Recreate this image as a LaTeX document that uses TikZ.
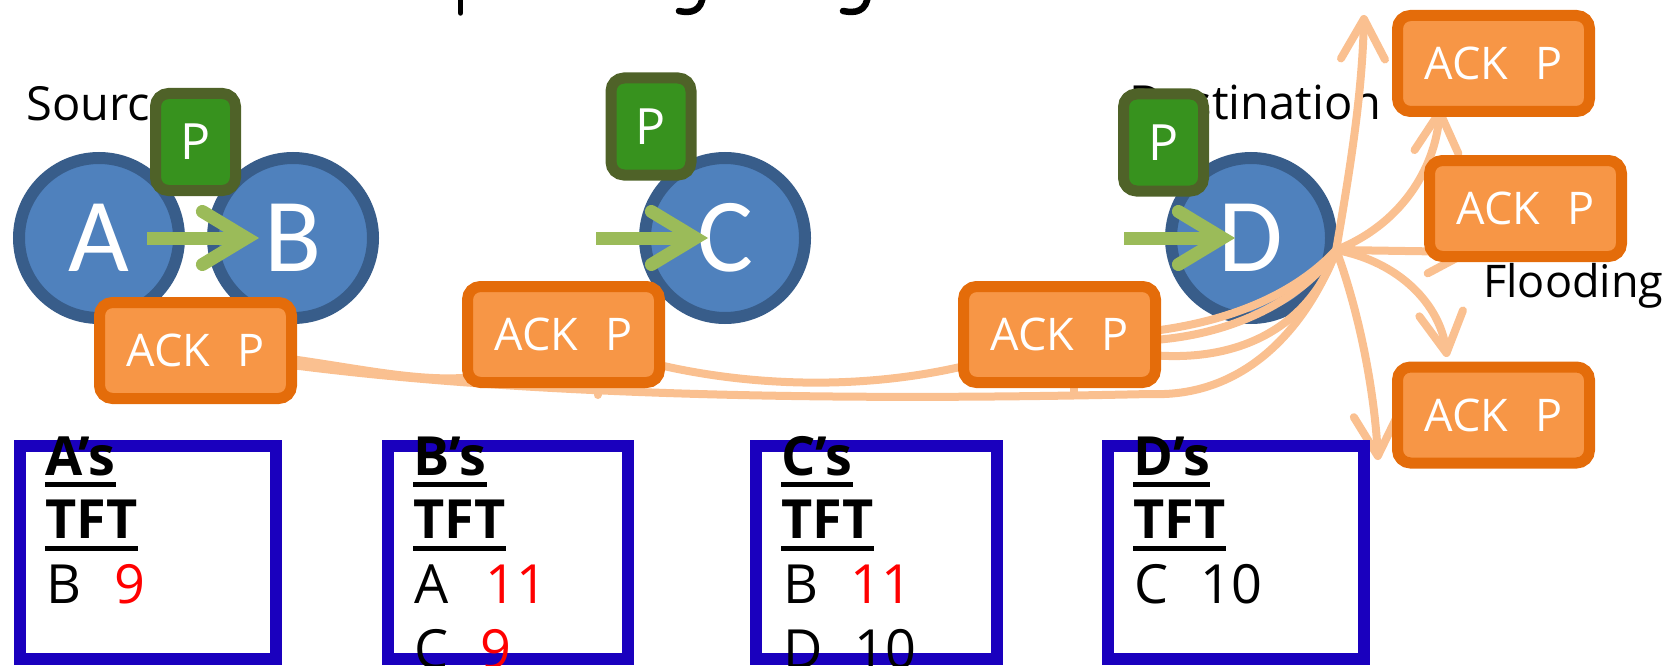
\documentclass[tikz,border=0pt]{standalone}
\usepackage{fontspec}
\setmainfont{Open Sans}
\newfontfamily\lettersfont{Carlito}
\usetikzlibrary{arrows.meta}

\definecolor{nodefill}{HTML}{4F81BD}
\definecolor{nodeline}{HTML}{385D8A}
\definecolor{pfill}{HTML}{37921E}
\definecolor{pline}{HTML}{4F6228}
\definecolor{ackfill}{HTML}{F79646}
\definecolor{ackline}{HTML}{E46C0A}
\definecolor{flowc}{HTML}{FAC090}
\definecolor{moveg}{HTML}{9BBB59}
\definecolor{tftblue}{RGB}{26,0,190}

\begin{document}
\begin{tikzpicture}[x=1pt,y=-1pt,
  peer/.style={circle, draw=nodeline, fill=nodefill, line width=12pt,
    minimum size=160pt, inner sep=0pt, text=white,
    font=\lettersfont\fontsize{105}{105}\selectfont},
  pkt/.style={rectangle, rounded corners=13pt, draw=pline, fill=pfill,
    line width=11pt, minimum width=80pt, minimum height=97pt, inner sep=0pt,
    text=white, font=\fontsize{50}{50}\selectfont},
  ack/.style={rectangle, rounded corners=13pt, draw=ackline, fill=ackfill,
    line width=11pt, minimum width=192pt, minimum height=96pt, inner sep=0pt,
    text=white, font=\fontsize{45}{45}\selectfont},
  move/.style={draw=moveg, line width=13pt,
    -{Straight Barb[length=44pt,width=53pt,line cap=round,line join=miter]}},
  flow/.style={draw=flowc, line width=8pt, line cap=round},
  flood/.style={flow,
    -{Straight Barb[length=40pt,width=44pt,line cap=round,line join=round]}},
  caption/.style={inner sep=0pt, anchor=base west,
    font=\fontsize{47}{47}\selectfont},
  tftbox/.style={rectangle, draw=tftblue, line width=12pt,
    minimum height=213pt, inner sep=0pt},
  tabhead/.style={inner sep=0pt, anchor=base west,
    font=\bfseries\fontsize{54}{54}\selectfont},
  tabtxt/.style={inner sep=0pt, anchor=base west,
    font=\fontsize{54}{54}\selectfont},
  uline/.style={line width=5pt},
]
\useasboundingbox (0,0) rectangle (1675,666);

% descenders of the heading line above
\draw[line width=5.5pt, line cap=round] (460.5,-6) -- (460.5,13);
\draw[line width=6.5pt, line cap=round] (703,-6) .. controls (702,12) and (690,13.5) .. (679,11);
\draw[line width=6.5pt, line cap=round] (868,-6) .. controls (867,12) and (855,13.5) .. (843,11);

% end-point captions
\node[caption] (src) at (26,121) {Source};
\node[caption] (dst) at (1129,120) {Destination};

% peers
\node[peer] (A) at (99,238) {A};
\node[peer] (B) at (293,238) {B};
\node[peer] (C) at (725,238) {C};
\node[peer] (D) at (1251,238) {D};

% data packet hops
\coordinate (inA) at (147,238);
\coordinate (inC) at (596,238);
\coordinate (inD) at (1124,238);
\draw[move] (inA) -- ([xshift=-34pt]B.center);
\draw[move] (inC) -- ([xshift=-17pt]C.center);
\draw[move] (inD) -- ([xshift=-16pt]D.center);

% data packets
\node[pkt] (pA) at (195.5,142) {P};
\node[pkt] (pC) at (651,126.5) {P};
\node[pkt] (pD) at (1163.5,142.5) {P};

% flooding centre at the destination
\coordinate (F) at (D.-8);

% acknowledgement return paths
\node[ack, draw=none, fill=none] (ackA) at (195.5,350.5) {};
\node[ack, draw=none, fill=none] (ackB) at (563.5,334.5) {};
\node[ack, draw=none, fill=none] (ackC) at (1059.5,334.5) {};
\draw[flow] (ackA.center) .. controls (360,355) and (480,420) .. (ackB.center);
\draw[flow] (ackA.center) .. controls (450,395) and (800,402) .. (1150,394)
            .. controls (1250,398) and (1310,320) .. (F);
\draw[flow] (ackB.center) .. controls (700,392) and (900,405) .. (ackC.center);
\draw[flow] (ackC.center) .. controls (1200,340) and (1290,300) .. (F);
\draw[flow] (ackC.center) .. controls (1200,360) and (1300,305) .. (F);
\draw[flow] (ackC.center) .. controls (1220,390) and (1310,330) .. (F);
\draw[flow] ([xshift=34pt]ackB.south) -- ++(0,7);
\draw[flow] ([xshift=14.5pt]ackC.south) -- ++(0,7);

% flooded acknowledgements
\coordinate (fUp) at (1364,15);
\coordinate (fTR) at (1440,108);
\coordinate (fMR) at (1472,252);
\coordinate (fBR) at (1447,357);
\coordinate (fDn) at (1378,460);
\draw[flood] (F) .. controls (1348,180) and (1362,100) .. (fUp);
\draw[flood] (F) .. controls (1400,225) and (1435,170) .. (fTR);
\draw[flood] (F) -- (fMR);
\draw[flood] (F) .. controls (1400,262) and (1440,305) .. (fBR);
\draw[flood] (F) .. controls (1362,320) and (1375,400) .. (fDn);

% acknowledgement packets
\node[ack] at (ackA) {ACK\hspace{0.35em} P};
\node[ack] at (ackB) {ACK\hspace{0.35em} P};
\node[ack] at (ackC) {ACK\hspace{0.35em} P};
\node[ack] (ackTR) at (1493.5,63.5) {ACK\hspace{0.35em} P};
\node[ack] (ackMR) at (1525.5,208.5) {ACK\hspace{0.35em} P};
\node[ack] (ackBR) at (1493.5,415) {ACK\hspace{0.35em} P};

\node[caption, font=\fontsize{45}{45}\selectfont] (flood) at (1483,297) {Flooding};

% TFT tables
\node[tftbox, minimum width=256.5pt] (tabA) at (147.75,552.5) {};
\node[tftbox, minimum width=240pt] (tabB) at (508,552.5) {};
\node[tftbox, minimum width=241pt] (tabC) at (876,552.5) {};
\node[tftbox, minimum width=256pt] (tabD) at (1236,552.5) {};

% A's table
\node[tabhead] (hA) at (45,475) {A's};
\node[tabhead] (tA) at (45,538) {TFT};
\draw[uline] ([yshift=-9pt]hA.base west) -- ([yshift=-9pt]hA.base east);
\draw[uline] ([yshift=-10pt]tA.base west) -- ([yshift=-10pt]tA.base east);
\node[tabtxt] (a1) at (46,603) {B};
\node[tabtxt, text=red] (a1v) at (114,603) {9};

% B's table
\node[tabhead] (hB) at (413,475) {B's};
\node[tabhead] (tB) at (413,538) {TFT};
\draw[uline] ([yshift=-9pt]hB.base west) -- ([yshift=-9pt]hB.base east);
\draw[uline] ([yshift=-10pt]tB.base west) -- ([yshift=-10pt]tB.base east);
\node[tabtxt] (b1) at (414,603) {A};
\node[tabtxt, text=red] (b1v) at (485,603) {11};
\node[tabtxt] (b2) at (414,668) {C};
\node[tabtxt, text=red] (b2v) at (480,668) {9};

% C's table
\node[tabhead] (hC) at (781,475) {C's};
\node[tabhead] (tC) at (781,538) {TFT};
\draw[uline] ([yshift=-9pt]hC.base west) -- ([yshift=-9pt]hC.base east);
\draw[uline] ([yshift=-10pt]tC.base west) -- ([yshift=-10pt]tC.base east);
\node[tabtxt] (c1) at (783,603) {B};
\node[tabtxt, text=red] (c1v) at (850,603) {11};
\node[tabtxt] (c2) at (783,668) {D};
\node[tabtxt] (c2v) at (854,668) {10};

% D's table
\node[tabhead] (hD) at (1133,475) {D's};
\node[tabhead] (tD) at (1133,538) {TFT};
\draw[uline] ([yshift=-9pt]hD.base west) -- ([yshift=-9pt]hD.base east);
\draw[uline] ([yshift=-10pt]tD.base west) -- ([yshift=-10pt]tD.base east);
\node[tabtxt] (d1) at (1134,603) {C};
\node[tabtxt] (d1v) at (1200,603) {10};
\end{tikzpicture}
\end{document}
